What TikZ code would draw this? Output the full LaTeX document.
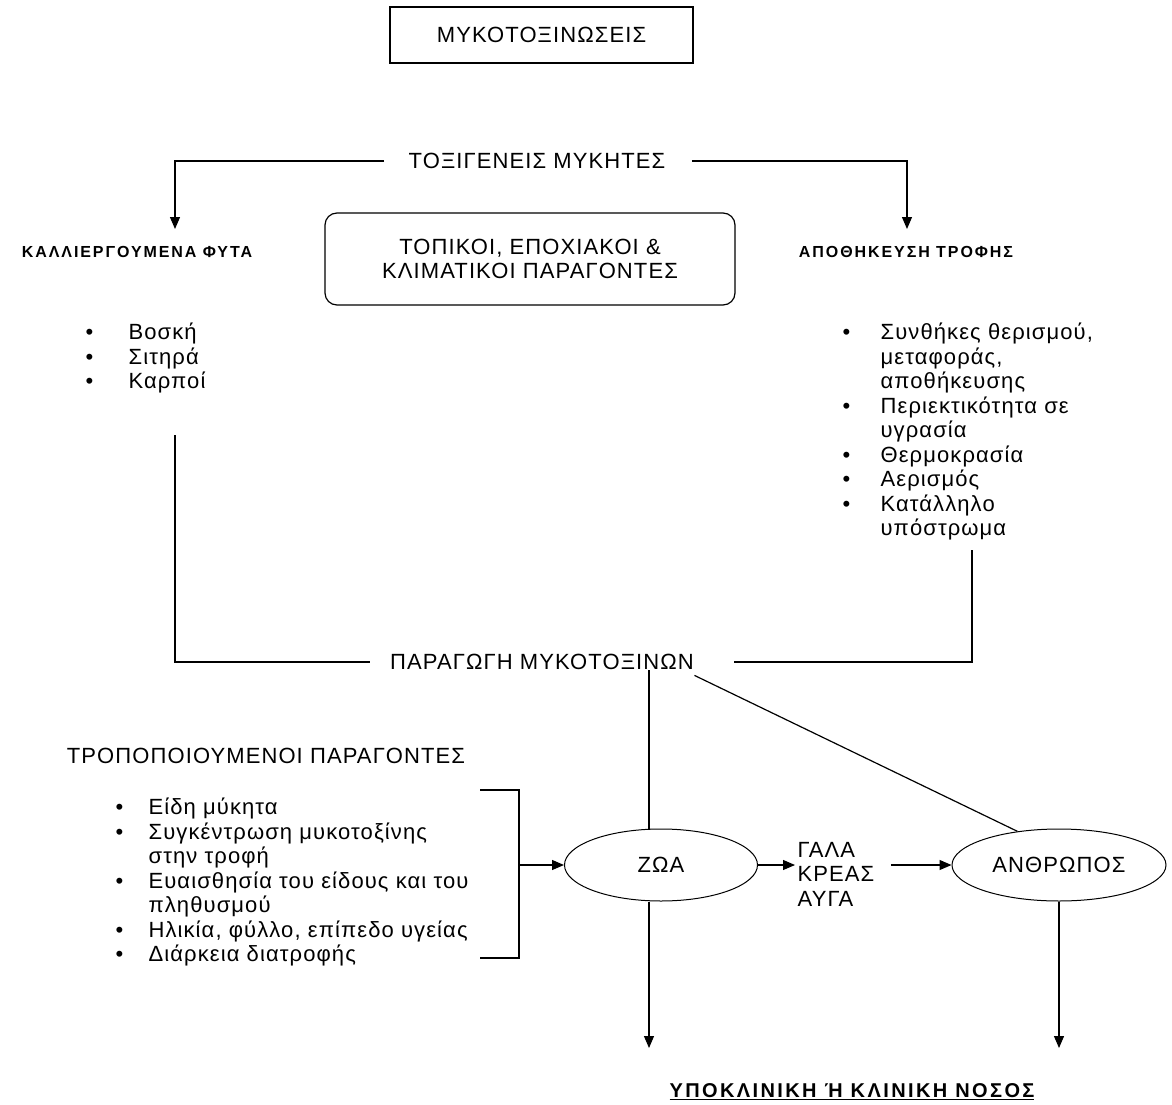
\documentclass[tikz,border=0pt]{standalone}
\usepackage{fontspec}
\setmainfont{Liberation Sans}
\newfontfamily\spaced[LetterSpace=5]{Liberation Sans}
\newfontfamily\headfont[LetterSpace=12]{Liberation Sans}
\newfontfamily\illfont[LetterSpace=12]{Liberation Sans}
\usetikzlibrary{shapes.geometric,arrows.meta,positioning}

\begin{document}
\begin{tikzpicture}[x=1pt,y=-1pt,line width=1.2pt,
  >={Triangle[length=12pt,width=10pt]},
  every node/.style={font=\spaced\fontsize{22}{24.5}\selectfont},
  label/.style={inner sep=0pt},
  head/.style={inner sep=0pt,font=\headfont\bfseries\fontsize{16}{18}\selectfont},
  oval/.style={ellipse,draw,line width=1pt,inner sep=0pt,minimum height=72pt},
  list/.style={anchor=north west,inner sep=0pt}]
\useasboundingbox (0,0) rectangle (1172,1105);

% Title
\node[draw,minimum width=303pt,minimum height=56pt] (title) at (541.5,35) {ΜΥΚΟΤΟΞΙΝΩΣΕΙΣ};

% Fungi and the two branches
\node[label] (fungi) at (537,161) {ΤΟΞΙΓΕΝΕΙΣ ΜΥΚΗΤΕΣ};
\node[head] (crops) at (137,252) {ΚΑΛΛΙΕΡΓΟΥΜΕΝΑ ΦΥΤΑ};
\node[head] (store) at (906,252) {ΑΠΟΘΗΚΕΥΣΗ ΤΡΟΦΗΣ};
\coordinate (cropstip) at (175,229);
\coordinate (storetip) at (907,229);
\draw[->] ([xshift=-24]fungi.west) -| (cropstip);
\draw[->] ([xshift=26]fungi.east) -| (storetip);

\node[draw,rounded corners=12pt,minimum width=410pt,minimum height=92pt,align=center] (climate) at (530,259)
  {ΤΟΠΙΚΟΙ, ΕΠΟΧΙΑΚΟΙ \&\\ ΚΛΙΜΑΤΙΚΟΙ ΠΑΡΑΓΟΝΤΕΣ};

% Bullet lists
\node[list] (croplist) at (85,322) {\begin{tabular}{@{}p{43pt}@{}l@{}}
  •&Βοσκή\\ •&Σιτηρά\\ •&Καρποί\end{tabular}};
\node[list] (storelist) at (842,322) {\begin{tabular}{@{}p{38pt}@{}l@{}}
  •&Συνθήκες θερισμού,\\ &μεταφοράς,\\ &αποθήκευσης\\
  •&Περιεκτικότητα σε\\ &υγρασία\\
  •&Θερμοκρασία\\ •&Αερισμός\\
  •&Κατάλληλο\\ &υπόστρωμα\end{tabular}};

% Production
\node[label] (prod) at (542,662) {ΠΑΡΑΓΩΓΗ ΜΥΚΟΤΟΞΙΝΩΝ};
\coordinate (cropsend) at (175,435);
\coordinate (storeend) at (972,550);
\draw (cropsend) |- ([xshift=-20]prod.west);
\draw (storeend) |- ([xshift=40]prod.east);

% Modifying factors
\node[label] (modif) at (266,756) {ΤΡΟΠΟΠΟΙΟΥΜΕΝΟΙ ΠΑΡΑΓΟΝΤΕΣ};
\node[list] (modlist) at (115,797) {\begin{tabular}{@{}p{33pt}@{}l@{}}
  •&Είδη μύκητα\\ •&Συγκέντρωση μυκοτοξίνης\\ &στην τροφή\\
  •&Ευαισθησία του είδους και του\\ &πληθυσμού\\
  •&Ηλικία, φύλλο, επίπεδο υγείας\\ •&Διάρκεια διατροφής\end{tabular}};

% Animals and humans
\node[oval,minimum width=193pt] (animals) at (661,865) {ΖΩΑ};
\node[oval,minimum width=214pt] (humans) at (1059,865) {ΑΝΘΡΩΠΟΣ};
\node[inner sep=2pt,align=left,anchor=west] (foods) at (795,874) {ΓΑΛΑ\\ΚΡΕΑΣ\\ΑΥΓΑ};

\coordinate (brtop) at (480,790);
\coordinate (brbot) at (480,958);
\coordinate (brace) at (519,865);
\draw (brtop) -| (brace) |- (brbot);
\draw[->] (brace) -- (animals.west);

\draw (prod.south -| 649,0) -- ([xshift=-12]animals.north);
\draw ([yshift=-5]prod.south east) -- (humans.141);
\draw[->] (animals.east) -- (animals.east -| foods.west);
\draw[->] ([xshift=14]foods.east |- humans.west) -- (humans.west);

% Disease
\node[inner sep=0pt,font=\illfont\bfseries\fontsize{20}{22}\selectfont] (disease) at (852,1092) {\underline{ΥΠΟΚΛΙΝΙΚΗ Ή ΚΛΙΝΙΚΗ ΝΟΣΟΣ}};
\coordinate (ill1) at (649,1048);
\coordinate (ill2) at (1059,1048);
\draw[->] ([xshift=-12]animals.south) -- (ill1);
\draw[->] (humans.south) -- (ill2);
\end{tikzpicture}
\end{document}
